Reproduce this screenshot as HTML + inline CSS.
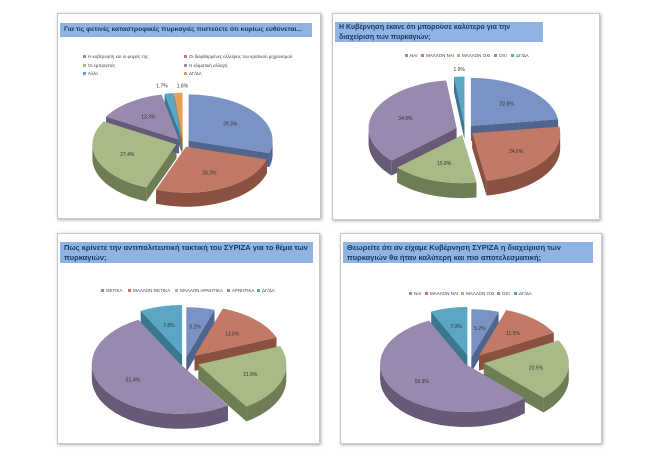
<!DOCTYPE html>
<html><head><meta charset="utf-8"><style>
body{margin:0;width:650px;height:472px;background:#fff;position:relative;overflow:hidden;font-family:"Liberation Sans","DejaVu Sans",sans-serif}
.p{position:absolute;background:#fff;border:1px solid #c8c8c8;box-shadow:1px 1px 3px #aaa}
.t{position:absolute;background:#8fb4e3;color:#17375e;font-size:8px;line-height:10px;padding:1px 4px;box-sizing:border-box;font-weight:bold}
svg{position:absolute;left:0;top:0}
</style></head><body>
<div class="p" style="left:57px;top:13px;width:262px;height:204px"></div>
<div class="p" style="left:332px;top:13px;width:266px;height:205px"></div>
<div class="p" style="left:57px;top:233px;width:261px;height:209px"></div>
<div class="p" style="left:340px;top:233px;width:260px;height:209px"></div>
<div class="t" style="left:60px;top:23px;width:252px;height:14px;padding-top:2px;font-size:6.8px;white-space:nowrap">Για τις φετινές καταστροφικές πυρκαγιές πιστεύετε ότι κυρίως ευθύνεται...</div>
<div class="t" style="left:335px;top:22px;width:208px;height:20px;font-size:7px;line-height:9.5px">Η Κυβέρνηση έκανε ότι μπορούσε καλύτερο για την διαχείριση των πυρκαγιών;</div>
<div class="t" style="left:60px;top:242px;width:253px;height:21px;font-size:7.5px">Πως κρίνετε την αντιπολιτευτική τακτική του ΣΥΡΙΖΑ για το θέμα των πυρκαγιών;</div>
<div class="t" style="left:343px;top:242px;width:250px;height:21px;font-size:7.5px">Θεωρείτε ότι αν είχαμε Κυβέρνηση ΣΥΡΙΖΑ η διαχείριση των πυρκαγιών θα ήταν καλύτερη και πιο αποτελεσματική;</div>
<svg id="s" width="650" height="472" xmlns="http://www.w3.org/2000/svg" font-family="Liberation Sans, sans-serif"></svg>
<script>
var C={b:['#7b93c4','#4f6590'],r:['#c27a66','#8a5040'],g:['#a8bb86','#6f7d55'],p:['#978aae','#665a78'],c:['#5aa6c4','#3a7890'],o:['#e6a055','#a87030']};
var s=document.getElementById('s'),h='';
function pie(cx,cy,rx,ry,d,ex,data){
 var tot=0;data.forEach(function(x){tot+=x[0]});
 var a=-Math.PI/2,sl=[];
 data.forEach(function(x){var a2=a+x[0]/tot*2*Math.PI,m=(a+a2)/2,e=x[3]||ex;
  sl.push({a1:a,a2:a2,m:m,ox:cx+e*Math.cos(m),oy:cy+e*0.6*Math.sin(m),c:C[x[1]],l:x[2],lx:x[4]});a=a2;});
 function P(o,t,dy){return [(o.ox+rx*Math.cos(t)).toFixed(1),(o.oy+ry*Math.sin(t)+dy).toFixed(1)]}
 var sides='',tops='',labs='';
 sl.forEach(function(o){
  [o.a1,o.a2].forEach(function(t){var p=P(o,t,0),q=P(o,t,d);
   sides+='<path d="M'+o.ox+','+o.oy+'L'+p+'L'+q+'L'+o.ox+','+(o.oy+d)+'Z" fill="'+o.c[1]+'"/>';});
 });
 sl.forEach(function(o){
  for(var k=-1;k<=1;k++){var lo=Math.max(o.a1,k*2*Math.PI),hi=Math.min(o.a2,k*2*Math.PI+Math.PI);
   if(hi>lo){var st=20,pts=[],i;for(i=0;i<=st;i++)pts.push(P(o,lo+(hi-lo)*i/st,0));
    for(i=st;i>=0;i--)pts.push(P(o,lo+(hi-lo)*i/st,d));
    sides+='<path d="M'+pts.join('L')+'Z" fill="'+o.c[1]+'"/>';}}
  var st=30,pts=[o.ox+','+o.oy];for(var i=0;i<=st;i++)pts.push(P(o,o.a1+(o.a2-o.a1)*i/st,0));
  tops+='<path d="M'+pts.join('L')+'Z" fill="'+o.c[0]+'"/>';
  if(o.l){var lx=o.ox+rx*0.62*Math.cos(o.m),ly=o.oy+ry*0.62*Math.sin(o.m)+2;
   if(o.a2-o.a1<0.2){lx=o.ox+rx*1.0*Math.cos(o.m)+(o.lx||0);ly=o.oy-ry*1.05-3;}
   labs+='<text x="'+lx.toFixed(1)+'" y="'+ly.toFixed(1)+'" font-size="5" fill="#333" text-anchor="middle">'+o.l+'</text>';}
 });
 h+=sides+tops+labs;
}
function leg(x,y,items){items.forEach(function(it){h+='<rect x="'+it[1]+'" y="'+(y+it[2]-3)+'" width="3" height="3" fill="'+C[it[3]][0]+'"/><text x="'+(it[1]+5)+'" y="'+(y+it[2])+'" font-size="4.5" fill="#444">'+it[0]+'</text>';});}
leg(0,58,[['Η κυβέρνηση και οι φορείς της',83,0,'b'],['Οι διεφθαρμένες ελλείψεις του κρατικού μηχανισμού',184,0,'r'],['Οι εμπρηστές',83,9,'g'],['Η κλιματική αλλαγή',184,9,'p'],['Άλλο',83,17,'c'],['ΔΓ/ΔΑ',184,17,'o']]);
leg(0,57,[['ΝΑΙ',405,0,'b'],['ΜΑΛΛΟΝ ΝΑΙ',421,0,'r'],['ΜΑΛΛΟΝ ΟΧΙ',457,0,'g'],['ΟΧΙ',494,0,'p'],['ΔΓ/ΔΑ',511,0,'c']]);
leg(0,292,[['ΘΕΤΙΚΑ',101,0,'b'],['ΜΑΛΛΟΝ ΘΕΤΙΚΑ',128,0,'r'],['ΜΑΛΛΟΝ ΑΡΝΗΤΙΚΑ',175,0,'g'],['ΑΡΝΗΤΙΚΑ',227,0,'p'],['ΔΓ/ΔΑ',257,0,'c']]);
leg(0,295,[['ΝΑΙ',409,0,'b'],['ΜΑΛΛΟΝ ΝΑΙ',425,0,'r'],['ΜΑΛΛΟΝ ΟΧΙ',461,0,'g'],['ΟΧΙ',497,0,'p'],['ΔΓ/ΔΑ',514,0,'c']]);
pie(183,143,84,46,14,7,[[29.3,'b','29.3%'],[26.3,'r','26.3%'],[27.4,'g','27.4%'],[13.3,'p','13.3%'],[1.7,'c','1.7%',0,-7],[1.6,'o','1.6%',0,4]]);
pie(465,130,88,48,15,9,[[22.8,'b','22.8%'],[24.6,'r','24.6%'],[15.8,'g','15.8%'],[34.9,'p','34.9%'],[1.9,'c','1.9%']]);
pie(185,362,88,50,15,8,[[5.2,'b','5.2%'],[13.8,'r','13.8%',14],[21.8,'g','21.8%',14],[51.4,'p','51.4%',6],[7.8,'c','7.8%',12]]);
pie(470,362,85,48,15,8,[[5.2,'b','5.2%'],[11.9,'r','11.9%',14],[20.5,'g','20.5%',14],[55.3,'p','55.3%',6],[7.0,'c','7.0%',12]]);
s.innerHTML=h;
</script>
</body></html>
